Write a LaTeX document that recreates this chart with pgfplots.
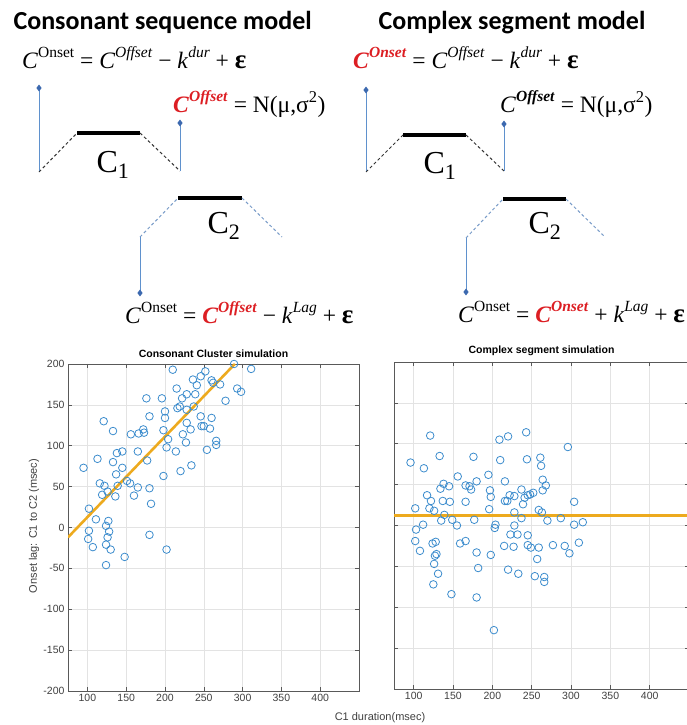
\documentclass[border=0pt]{standalone}
\usepackage{fontspec}
\usepackage{pgfplots}
\pgfplotsset{compat=1.18}
\setmainfont{Liberation Serif}
\newfontfamily\calibri{Carlito}
\newfontfamily\arial{Liberation Sans}

\definecolor{eqred}{RGB}{220,30,35}
\definecolor{blueln}{RGB}{95,145,205}
\definecolor{bluedot}{RGB}{60,105,175}
\definecolor{dashblue}{RGB}{120,155,200}
\definecolor{scat}{RGB}{60,140,205}
\definecolor{fitorange}{RGB}{237,170,30}

\newcommand{\eqfont}{\fontsize{23.5}{24}\selectfont}
\newcommand{\supx}[1]{\raisebox{0.45em}{\fontsize{15.5}{16}\selectfont #1}}
\newcommand{\CC}{\textit{C}}
\newcommand{\RC}[1]{\textcolor{eqred}{\textbf{\textit{C}}\supx{\textbf{\textit{#1}}}}}
\newcommand{\eps}{{\fontsize{27}{27}\selectfont\textbf{ε}}}

\pgfplotsset{
  sim/.style={
    scale only axis,
    xmin=75, xmax=450, ymin=-200, ymax=200,
    xtick={100,150,...,400}, ytick={-200,-150,...,200},
    grid=major, grid style={gray!22, line width=0.5pt},
    axis line style={black!65, line width=0.7pt},
    tick align=inside, tick pos=both, major tick length=4pt,
    tick style={black!65, line width=0.6pt},
    ticklabel style={font=\arial\fontsize{10.5}{12}\selectfont, text=black!75},
    /pgf/number format/assume math mode=true,
    title style={font=\arial\bfseries\fontsize{10.5}{12}\selectfont, yshift=-3pt},
  },
  pts/.style={only marks, mark=o, mark size=3.8pt, mark options={draw=scat, line width=0.8pt}},
  fit/.style={fitorange, line width=2.6pt},
  vline/.style={blueln, line width=1pt, mark=diamond*, mark size=2.6pt,
    mark options={fill=bluedot, draw=bluedot}},
  dsh/.style={dashed, dash pattern=on 3pt off 2.5pt, line width=1pt},
}

\begin{document}
\begin{tikzpicture}
% schematic layer, in pixel units of the reference
\begin{axis}[
  at={(0pt,0pt)}, scale only axis, width=686pt, height=725pt,
  xmin=0, xmax=686, ymin=0, ymax=725, y dir=reverse,
  hide axis, clip=false,
]
\coordinate (TL) at (axis cs:0,0);
\coordinate (BR) at (axis cs:686,725);
\coordinate (LP) at (axis cs:68,691);
\coordinate (RP) at (axis cs:394,689);

% ---- consonant sequence model
\node[anchor=base west, font=\calibri\bfseries\fontsize{26}{26}\selectfont] at (axis cs:10,30) {Consonant sequence model};
\addplot[vline, mark indices={1}] coordinates {(39,88) (39,172)};
\addplot[black!80, dsh] coordinates {(39,172) (77,133)};
\addplot[black, line width=3.5pt] coordinates {(77,133) (140,133)};
\addplot[black!80, dsh] coordinates {(140,133) (180,171)};
\addplot[vline, mark indices={1}] coordinates {(180,123) (180,171)};
\addplot[dashblue, dsh] coordinates {(140,237) (178,198)};
\addplot[black, line width=3.5pt] coordinates {(178,198) (242,198)};
\addplot[dashblue, dsh] coordinates {(242,198) (282,237)};
\addplot[vline, mark indices={2}] coordinates {(140,237) (140,293)};
\node[anchor=base west, font=\fontsize{32}{32}\selectfont] at (axis cs:93,172) {C\raisebox{-0.2em}{\fontsize{22}{22}\selectfont 1}};
\node[anchor=base west, font=\fontsize{32}{32}\selectfont] at (axis cs:204,233) {C\raisebox{-0.2em}{\fontsize{22}{22}\selectfont 2}};
\node[anchor=base west, font=\eqfont, inner sep=0pt] at (axis cs:22,68)
  {\CC\supx{Onset} = \CC\supx{\textit{Offset}} − \textit{k}\supx{\textit{dur}} + \eps};
\node[anchor=base west, font=\eqfont, inner sep=0pt] at (axis cs:173,112)
  {\RC{Offset} = N(μ,σ\textsuperscript{2})};
\node[anchor=base west, font=\eqfont, inner sep=0pt] at (axis cs:125,323)
  {\CC\supx{Onset} = \RC{Offset} − \textit{k}\supx{\textit{Lag}} + \eps};

% ---- complex segment model
\node[anchor=base west, font=\calibri\bfseries\fontsize{26}{26}\selectfont] at (axis cs:375,30) {Complex segment model};
\addplot[vline, mark indices={1}] coordinates {(366,90) (366,172)};
\addplot[black!80, dsh] coordinates {(366,172) (403,135)};
\addplot[black, line width=3.5pt] coordinates {(403,135) (466,135)};
\addplot[black!80, dsh] coordinates {(466,135) (504,171)};
\addplot[vline, mark indices={1}] coordinates {(504,124) (504,171)};
\addplot[dashblue, dsh] coordinates {(466,238) (503,199)};
\addplot[black, line width=3.5pt] coordinates {(503,199) (566,199)};
\addplot[dashblue, dsh] coordinates {(566,199) (605,237)};
\addplot[vline, mark indices={2}] coordinates {(466,238) (466,292)};
\node[anchor=base west, font=\fontsize{32}{32}\selectfont] at (axis cs:420,173) {C\raisebox{-0.2em}{\fontsize{22}{22}\selectfont 1}};
\node[anchor=base west, font=\fontsize{32}{32}\selectfont] at (axis cs:525,233) {C\raisebox{-0.2em}{\fontsize{22}{22}\selectfont 2}};
\node[anchor=base west, font=\eqfont, inner sep=0pt] at (axis cs:353,68)
  {\RC{Onset} = \CC\supx{\textit{Offset}} − \textit{k}\supx{\textit{dur}} + \eps};
\node[anchor=base west, font=\eqfont, inner sep=0pt] at (axis cs:500,112)
  {\CC\supx{\textbf{\textit{Offset}}} = N(μ,σ\textsuperscript{2})};
\node[anchor=base west, font=\eqfont, inner sep=0pt] at (axis cs:458,322)
  {\CC\supx{Onset} = \RC{Onset} + \textit{k}\supx{\textit{Lag}} + \eps};

% shared axis labels
\node[rotate=90, font=\arial\fontsize{11}{12}\selectfont, text=black!75] at (axis cs:34,526) {Onset lag: C1 to C2 (msec)};
\node[font=\arial\fontsize{11}{12}\selectfont, text=black!75] at (axis cs:380,718) {C1 duration(msec)};
\end{axis}

% ---- consonant cluster simulation
\begin{axis}[sim, at={(LP)}, anchor=south west, width=291pt, height=327pt,
  title={Consonant Cluster simulation}]
\addplot[pts] coordinates {
(95,73)(113,84)(121,130)(133,118)(133,80)(138,91)(145,93)(145,73)(137,65)
(139,51)(136,38)(116,54)(122,51)(119,40)(126,44)(102,23)(111,10)(127,8)
(124,2)(102,-4)(128,-5)(101,-14)(126,-12)(180,-9)(151,57)(155,54)(160,39)
(165,49)(165,93)(156,114)(166,115)(172,120)(173,116)(176,158)(180,136)
(177,82)(180,48)(182,29)(196,158)(200,142)(200,134)(198,119)(204,108)
(202,98)(198,63)(210,193)(214,93)(220,69)(215,170)(216,146)(219,148)
(222,158)(228,163)(228,144)(223,114)(228,128)(227,104)(233,120)(234,76)
(236,181)(241,174)(239,163)(237,148)(246,185)(252,191)(246,136)(247,124)
(250,124)(260,180)(262,177)(271,175)(260,134)(258,121)(254,95)(266,106)
(266,101)(278,155)(289,200)(293,170)(298,166)(311,194)(107,-24)(124,-21)
(130,-27)(124,-46)(148,-36)(202,-27)
};
\addplot[fit] coordinates {(75,-12) (290,200)};
\end{axis}

% ---- complex segment simulation
\begin{axis}[sim, at={(RP)}, anchor=south west, width=295pt, height=327pt,
  yticklabels={}, title={Complex segment simulation}]
\addplot[pts] coordinates {
(96,77)(121,110)(113,70)(133,85)(176,84)(209,105)(220,109)(243,114)(210,80)
(244,81)(261,83)(262,73)(296,96)(156,60)(195,62)(180,54)(216,54)(264,56)
(138,51)(134,45)(145,48)(166,49)(171,48)(173,44)(197,43)(198,35)(237,44)
(264,43)(268,49)(117,37)(122,30)(137,30)(146,29)(166,29)(216,30)(219,30)
(222,37)(228,36)(239,26)(245,37)(248,38)(252,40)(241,34)(304,29)(102,21)
(120,21)(126,18)(139,13)(196,20)(228,16)(259,19)(263,16)(237,9)(287,9)
(135,6)(149,7)(177,7)(270,6)(315,4)(103,-5)(112,1)(155,0)(204,1)(203,-3)
(228,0)(304,1)(223,-11)(232,-11)(245,-12)(102,-19)(108,-31)(124,-22)
(128,-20)(129,-35)(127,-37)(126,-47)(131,-59)(125,-72)(148,-84)(159,-22)
(166,-19)(180,-33)(182,-52)(180,-88)(198,-36)(202,-128)(215,-25)(220,-54)
(227,-26)(233,-59)(245,-24)(249,-27)(257,-41)(259,-27)(254,-62)(266,-63)
(266,-69)(277,-24)(292,-25)(298,-34)(310,-21)
};
\addplot[fit] coordinates {(75,12) (450,12)};
\end{axis}

\pgfresetboundingbox
\path (TL) rectangle (BR);
\end{tikzpicture}
\end{document}
